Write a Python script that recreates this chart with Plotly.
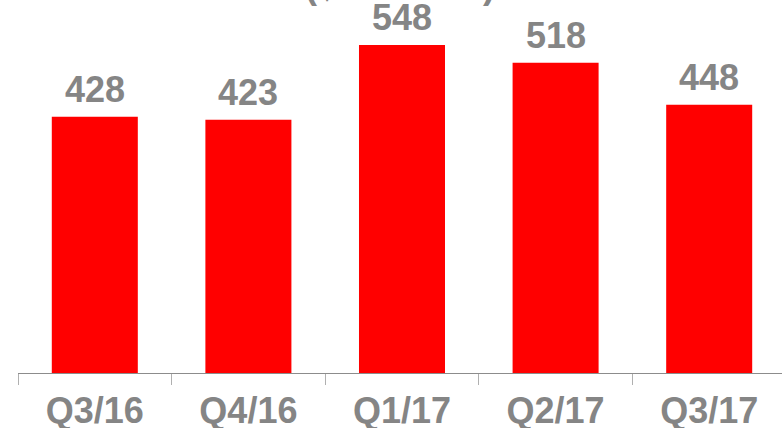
import plotly.graph_objects as go

categories = ["Q3/16", "Q4/16", "Q1/17", "Q2/17", "Q3/17"]
values = [428, 423, 548, 518, 448]
title_text = "($ millions)"

gray = "#858585"
font_main = dict(family="Arial, Liberation Sans", size=36, color=gray, weight="bold")
fig = go.Figure(go.Bar(
    x=categories, y=values,
    marker=dict(color="#FF0000", line=dict(width=0)),
    width=0.56,
))
for c, v in zip(categories, values):
    fig.add_annotation(x=c, y=v, text=str(v), showarrow=False, yanchor="bottom",
                       yshift=5, font=font_main)
fig.add_annotation(
    text=title_text, xref="paper", yref="paper", x=0.5, y=1, xanchor="center",
    yanchor="bottom", yshift=-8, showarrow=False, font=font_main,
)
fig.update_layout(
    width=782, height=428,
    margin=dict(l=18, r=0, t=0, b=55, autoexpand=False),
    plot_bgcolor="white", paper_bgcolor="white",
    showlegend=False,
)
fig.update_xaxes(
    range=[-0.5, 4.474], automargin=False,
    showline=True, linecolor="#8c8c8c", linewidth=1,
    ticks="outside", ticklen=11, tickcolor="#b0b0b0",
    tickson="boundaries", ticklabelstandoff=6,
    tickfont=font_main,
)
fig.update_yaxes(range=[0, 623], visible=False, showgrid=False, automargin=False)
fig.write_html("out.html", config={"displayModeBar": False},
               post_script="document.body.style.margin='0';")
